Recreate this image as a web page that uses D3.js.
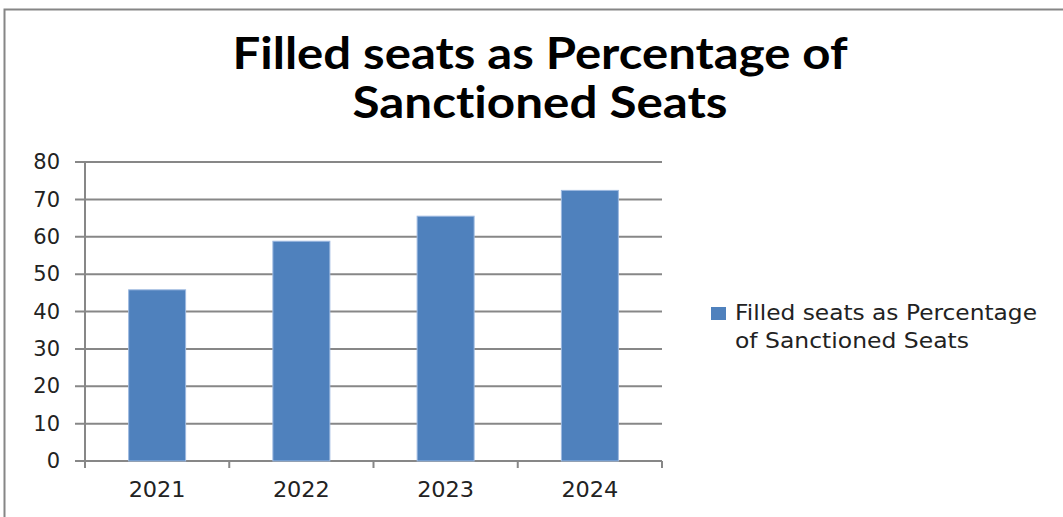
<!DOCTYPE html>
<html><head><meta charset="utf-8">
<script src="https://cdn.jsdelivr.net/npm/d3@7"></script>
<style>html,body{margin:0;padding:0;background:#fff;overflow:hidden} text{font-variant-ligatures:none;font-feature-settings:"liga" 0,"dlig" 0;}</style>
</head><body>
<svg id="c" width="1063" height="517"></svg>
<script>
const categories = ["2021", "2022", "2023", "2024"];
const values = [45.8, 58.8, 65.5, 72.4];
const yTicks = [0, 10, 20, 30, 40, 50, 60, 70, 80];
const seriesName = "Filled seats as Percentage of Sanctioned Seats";
const titleLines = ["Filled seats as Percentage of", "Sanctioned Seats"];

(function () {
const svg = d3.select("#c");
const W = 1063, H = 517;
svg.append("rect").attr("width", W).attr("height", H).attr("fill", "#fff");
// chart border
svg.append("rect").attr("x", 4.5).attr("y", 9.5).attr("width", W + 10).attr("height", H + 10)
  .attr("fill", "none").attr("stroke", "#868686").attr("stroke-width", 2);

const pLeft = 85, pRight = 662, pTop = 162, pBottom = 461;
const x = d3.scaleBand().domain(categories).range([pLeft, pRight]).paddingInner(0.605).paddingOuter(0.3025);
const y = d3.scaleLinear().domain([0, 80]).range([pBottom, pTop]);
const grid = "#878787";
const lblFont = "DejaVu Sans, Verdana, sans-serif";

// gridlines
svg.append("g").selectAll("line").data(yTicks).join("line")
  .attr("x1", pLeft - 10).attr("x2", pRight)
  .attr("y1", d => y(d)).attr("y2", d => y(d))
  .attr("stroke", grid).attr("stroke-width", 2);

// y axis
const ya = svg.append("g").attr("transform", `translate(${pLeft},0)`)
  .call(d3.axisLeft(y).tickValues(yTicks).tickSize(0).tickPadding(25));
ya.select(".domain").remove();
ya.selectAll("text").attr("font-family", lblFont).attr("font-size", 21).attr("fill", "#222");
svg.append("line").attr("x1", pLeft).attr("x2", pLeft).attr("y1", pTop).attr("y2", pBottom + 7)
  .attr("stroke", grid).attr("stroke-width", 2);

// x axis
const xa = svg.append("g").attr("transform", `translate(0,${pBottom})`)
  .call(d3.axisBottom(x).tickSize(0).tickPadding(21));
xa.select(".domain").remove();
xa.selectAll("text").attr("font-family", lblFont).attr("font-size", 21).attr("fill", "#222")
  .attr("textLength", 57).attr("lengthAdjust", "spacingAndGlyphs");
const step = x.step();
const bounds = d3.range(categories.length + 1).map(i => pLeft + i * step);
svg.append("g").selectAll("line").data(bounds).join("line")
  .attr("x1", d => d).attr("x2", d => d).attr("y1", pBottom).attr("y2", pBottom + 7)
  .attr("stroke", grid).attr("stroke-width", 2);

// bars
svg.append("g").selectAll("rect").data(values).join("rect")
  .attr("x", (d, i) => x(categories[i]))
  .attr("y", d => y(d))
  .attr("width", x.bandwidth())
  .attr("height", d => y(0) - y(d))
  .attr("fill", "#4F81BD").attr("stroke", "#9DB9E0").attr("stroke-width", 1);

// title
const tw = [615, 375];
svg.append("g").selectAll("text").data(titleLines).join("text")
  .attr("x", 540).attr("y", (d, i) => 69 + i * 49)
  .attr("text-anchor", "middle")
  .attr("font-family", "Lato, Open Sans, sans-serif")
  .attr("font-weight", "bold").attr("font-size", 44).attr("fill", "#000")
  .attr("textLength", (d, i) => tw[i]).attr("lengthAdjust", "spacingAndGlyphs")
  .text(d => d);

// legend
svg.append("rect").attr("x", 711).attr("y", 307).attr("width", 15).attr("height", 13).attr("fill", "#4F81BD");
const legLines = ["Filled seats as Percentage", "of Sanctioned Seats"];
svg.append("g").selectAll("text").data(legLines).join("text")
  .attr("x", 735).attr("y", (d, i) => 320 + i * 28)
  .attr("font-family", lblFont).attr("font-size", 21).attr("fill", "#222")
  .attr("textLength", (d, i) => i === 0 ? 302 : 234).attr("lengthAdjust", "spacingAndGlyphs")
  .text(d => d);
})();
</script>
</body></html>
